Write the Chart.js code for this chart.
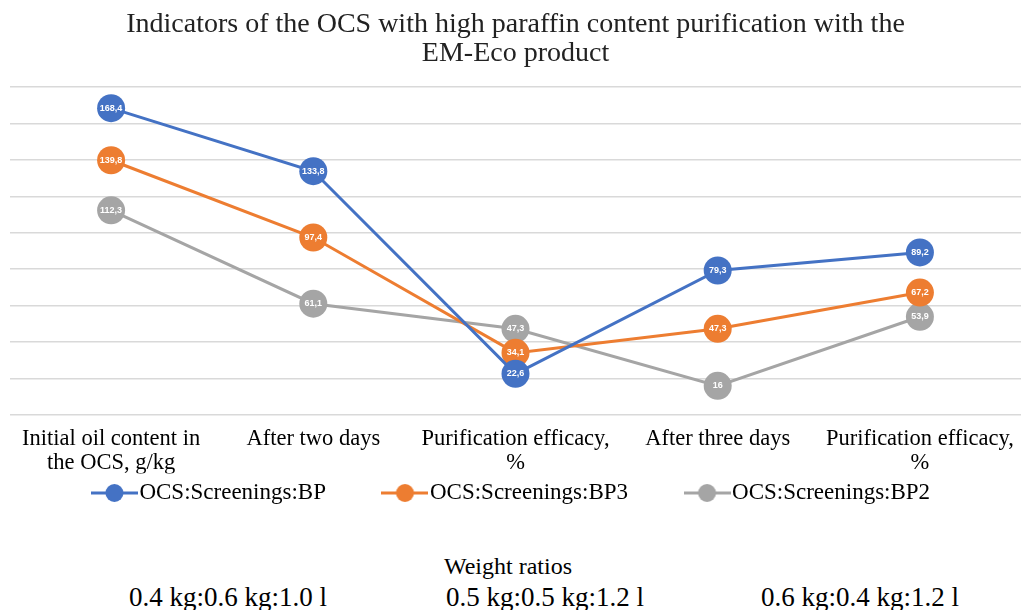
<!DOCTYPE html>
<html lang="en">
<head>
    <meta charset="UTF-8">
    <title>OCS purification with EM-Eco</title>
    <script src="https://cdn.jsdelivr.net/npm/chart.js"></script>
    <style>
        body { margin: 0; background: #fff; font-family: "Liberation Serif", serif; }
        .wrap { position: relative; width: 1031px; height: 610px; overflow: hidden; }
        .chart-container { position: absolute; left: 0; top: 0; width: 1031px; height: 520px; }
        .note { position: absolute; color: #000; white-space: nowrap; line-height: 30px; }
    </style>
</head>
<body>
<div class="wrap">
    <div class="chart-container"><canvas id="chart1"></canvas></div>
    <div class="note" id="ratioTitle" style="left:0;width:1016px;text-align:center;top:551px;font-size:24px;"></div>
    <div class="note" id="r0" style="left:129px;top:582px;font-size:27px;"></div>
    <div class="note" id="r1" style="left:446px;top:582px;font-size:27px;"></div>
    <div class="note" id="r2" style="left:761px;top:582px;font-size:27px;"></div>
</div>
<script>
    const categories = [
        ['Initial oil content in', 'the OCS, g/kg'],
        'After two days',
        ['Purification efficacy,', '%'],
        'After three days',
        ['Purification efficacy,', '%']
    ];
    const seriesNames = ['OCS:Screenings:BP', 'OCS:Screenings:BP3', 'OCS:Screenings:BP2'];
    const bpValues  = [168.4, 133.8, 22.6, 79.3, 89.2];
    const bp3Values = [139.8, 97.4, 34.1, 47.3, 67.2];
    const bp2Values = [112.3, 61.1, 47.3, 16.0, 53.9];
    const weightTitle = 'Weight ratios';
    const weightRatios = ['0.4 kg:0.6 kg:1.0 l', '0.5 kg:0.5 kg:1.2 l', '0.6 kg:0.4 kg:1.2 l'];

    const colors = ['#4472C4', '#ED7D31', '#A5A5A5'];

    document.getElementById('ratioTitle').textContent = weightTitle;
    weightRatios.forEach((t, i) => document.getElementById('r' + i).textContent = t);

    // legend marker: short line with a dot on it, a bit wider than its box
    const ICON_BOX = 27;
    function legendIcon(color) {
        const c = document.createElement('canvas');
        c.width = ICON_BOX + 20; c.height = 22;
        const g = c.getContext('2d');
        g.strokeStyle = color; g.lineWidth = 3;
        g.beginPath(); g.moveTo(0, 11); g.lineTo(c.width, 11); g.stroke();
        g.fillStyle = color;
        g.beginPath(); g.arc(c.width / 2, 11, 9, 0, Math.PI * 2); g.fill();
        return c;
    }

    // small white value text inside each marker
    const valueLabels = {
        id: 'valueLabels',
        afterDatasetsDraw(chart) {
            const ctx = chart.ctx;
            ctx.save();
            ctx.fillStyle = '#fff';
            ctx.font = 'bold 9px "Liberation Sans"';
            ctx.textAlign = 'center';
            ctx.textBaseline = 'middle';
            chart.data.datasets.forEach((ds, i) => {
                chart.getDatasetMeta(i).data.forEach((pt, j) => {
                    ctx.fillText(String(ds.data[j]).replace('.', ','), pt.x, pt.y);
                });
            });
            ctx.restore();
        }
    };

    const allValues = [bpValues, bp3Values, bp2Values];
    const datasets = allValues.map((vals, i) => ({
        label: seriesNames[i],
        data: vals,
        borderColor: colors[i],
        backgroundColor: colors[i],
        borderWidth: 3,
        pointRadius: 14,
        pointHoverRadius: 14,
        pointBorderWidth: 0,
        fill: false,
        clip: false,
        tension: 0
    }));

    new Chart(document.getElementById('chart1').getContext('2d'), {
        type: 'line',
        data: { labels: categories, datasets: datasets },
        options: {
            responsive: true,
            maintainAspectRatio: false,
            animation: false,
            layout: { autoPadding: false, padding: { left: 10, right: 10, bottom: 5.5 } },
            scales: {
                x: {
                    offset: true,
                    grid: { display: false, drawTicks: false },
                    border: { display: false },
                    ticks: {
                        color: '#000',
                        font: { family: '"Liberation Serif"', size: 22.5, lineHeight: 1.07 },
                        padding: 12,
                        maxRotation: 0,
                        autoSkip: false
                    },
                    afterFit(scale) {
                        scale.height = 58.5;
                        scale.paddingLeft = 0;
                        scale.paddingRight = 0;
                    }
                },
                y: {
                    min: 0,
                    max: 180,
                    ticks: { display: false, stepSize: 20 },
                    grid: { color: '#d9d9d9', lineWidth: 1.5, drawTicks: false },
                    border: { display: false }
                }
            },
            plugins: {
                title: {
                    display: true,
                    text: ['Indicators of the OCS with high paraffin content purification with the', 'EM-Eco product'],
                    color: '#222',
                    font: { family: '"Liberation Serif"', size: 28, weight: 'normal', lineHeight: 1.036 },
                    padding: { top: 10, bottom: 19 }
                },
                legend: {
                    position: 'bottom',
                    labels: {
                        usePointStyle: true,
                        pointStyleWidth: ICON_BOX,
                        color: '#000',
                        padding: 8,
                        font: { family: '"Liberation Serif"', size: 23 },
                        generateLabels(chart) {
                            const n = chart.data.datasets.length;
                            return chart.data.datasets.map((ds, i) => ({
                                // trailing spaces keep the gap to the next entry
                                text: ds.label + (i < n - 1 ? '          ' : ''),
                                pointStyle: legendIcon(colors[i]),
                                fillStyle: colors[i],
                                strokeStyle: colors[i],
                                lineWidth: 0,
                                datasetIndex: i,
                                fontColor: '#000'
                            }));
                        }
                    }
                },
                tooltip: { enabled: false }
            }
        },
        plugins: [valueLabels]
    });
</script>
</body>
</html>
